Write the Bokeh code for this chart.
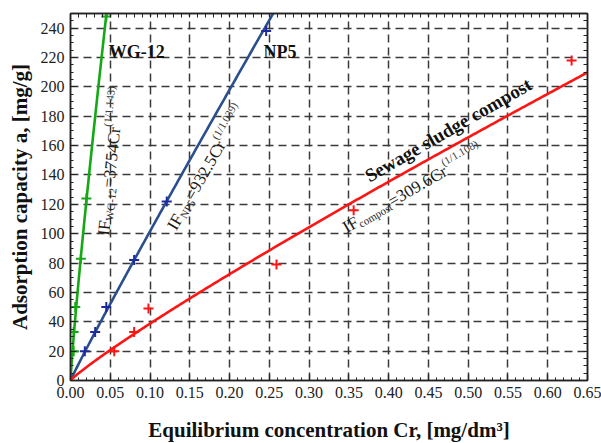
import math
import numpy as np
from bokeh.plotting import figure
from bokeh.models import LinearAxis, FixedTicker, Label, Range1d
from bokeh.embed import file_html
from bokeh.resources import INLINE

# ---------------- data ----------------
wg_x = [0.004, 0.004, 0.006, 0.013, 0.020, 0.045]
wg_y = [20, 33, 50, 83, 124, 248]
np5_x = [0.018, 0.031, 0.045, 0.080, 0.121, 0.246]
np5_y = [20, 33, 50, 82, 122, 238]
comp_x = [0.055, 0.080, 0.098, 0.259, 0.356, 0.630]
comp_y = [20, 33, 49, 79, 116, 218]

# Freundlich fits stated on the chart: a = K * Cr^(1/n)
fit_K = [3754.0, 932.5, 309.6]
fit_n = [1.143, 1.039, 1.108]

x_ticks = [0.00, 0.05, 0.10, 0.15, 0.20, 0.25, 0.30, 0.35, 0.40, 0.45, 0.50, 0.55, 0.60, 0.65]
x_tick_labels = ["0.00", "0.05", "0.10", "0.15", "0.20", "0.25", "0.30", "0.35", "0.40",
                 "0.45", "0.50", "0.55", "0.60", "0.65"]
y_ticks = [0, 20, 40, 60, 80, 100, 120, 140, 160, 180, 200, 220, 240]

X_MAX, Y_MAX = 0.65, 250
FW, FH = 517, 367
SERIF = "Liberation Serif"

GREEN = "#14a814"
BLUE_LINE = "#2b4f8c"
BLUE_PT = "#1c2a9e"
RED = "#ff1414"

p = figure(frame_width=FW, frame_height=FH,
           x_range=Range1d(0, X_MAX), y_range=Range1d(0, Y_MAX),
           output_backend="svg", toolbar_location=None,
           min_border_left=70, min_border_right=14, min_border_top=13, min_border_bottom=63)
p.background_fill_color = "white"
p.border_fill_color = "white"
p.outline_line_color = "#222222"
p.outline_line_width = 1.5

minor_x = [round(0.01 * i, 2) for i in range(66)]
minor_y = list(range(0, 251, 5))
xt = FixedTicker(ticks=x_ticks, minor_ticks=minor_x)
yt = FixedTicker(ticks=y_ticks, minor_ticks=minor_y)
# top/right axes: ticks only (everything as minor ticks so no labels are produced)
xt_top = FixedTicker(ticks=[], minor_ticks=sorted(set(minor_x) | set(x_ticks)))
yt_right = FixedTicker(ticks=[], minor_ticks=sorted(set(minor_y) | set(y_ticks)))

def style_axis(ax):
    ax.axis_line_color = "#222222"
    ax.axis_line_width = 1.5
    ax.major_tick_in = 6
    ax.major_tick_out = 0
    ax.minor_tick_in = 3
    ax.minor_tick_out = 0
    ax.major_tick_line_color = "#222222"
    ax.minor_tick_line_color = "#222222"
    ax.major_tick_line_width = 1.2
    ax.minor_tick_line_width = 1
    ax.major_label_text_font = SERIF
    ax.major_label_text_font_size = "16px"
    ax.major_label_text_color = "#222222"
    ax.major_label_standoff = 6
    ax.axis_label_text_font = SERIF
    ax.axis_label_text_font_style = "bold"
    ax.axis_label_text_font_size = "21px"
    ax.axis_label_text_color = "#111111"

xa = p.xaxis[0]
xa.ticker = xt
xa.major_label_overrides = {t: l for t, l in zip(x_ticks, x_tick_labels)}
xa.axis_label = "Equilibrium concentration Cr, [mg/dm\u00b3]"
style_axis(xa)
xa.axis_label_standoff = 17

ya = p.yaxis[0]
ya.ticker = yt
ya.axis_label = "Adsorption capacity a, [mg/g]"
style_axis(ya)
ya.axis_label_standoff = 6

top = LinearAxis(ticker=xt_top)
style_axis(top)
top.minor_tick_in = 4
p.add_layout(top, "above")
right = LinearAxis(ticker=yt_right)
style_axis(right)
right.minor_tick_in = 4
p.add_layout(right, "right")

for g in (p.xgrid[0], p.ygrid[0]):
    g.grid_line_color = "#3a3a3a"
    g.grid_line_width = 1.5
    g.grid_line_dash = "8 5"
p.xgrid[0].ticker = xt
p.ygrid[0].ticker = yt

# fitted curves
xs = np.linspace(0, X_MAX, 400)
for K, n, c in zip(fit_K, fit_n, [GREEN, BLUE_LINE, RED]):
    p.line(xs, K * xs ** (1.0 / n), line_color=c, line_width=2.6)

# measured points
p.scatter(wg_x, wg_y, marker="cross", size=10, line_width=2, line_color=GREEN)
p.scatter(np5_x, np5_y, marker="cross", size=10, line_width=2, line_color=BLUE_PT)
p.scatter(comp_x, comp_y, marker="cross", size=10, line_width=2, line_color=RED)

# series names
for txt, x, y in [("WG-12", 0.048, 223.5), ("NP5", 0.2426, 224)]:
    p.add_layout(Label(x=x, y=y, text=txt, text_font=SERIF, text_font_style="bold",
                       text_font_size="18px", text_color="#111111",
                       text_baseline="alphabetic", text_align="left"))
p.add_layout(Label(x=0.372, y=138.5, text="Sewage sludge compost", angle=math.radians(30),
                   text_font=SERIF, text_font_style="bold", text_font_size="19px",
                   text_color="#111111", text_baseline="alphabetic", text_align="left"))

# equations built from pieces (main, subscript, main, superscript)
W = {"I": 333, "F": 556, "W": 944, "G": 722, "-": 333, "=": 564, ".": 250, "C": 667,
     "r": 333, "(": 333, ")": 333, "/": 278, "N": 722, "P": 556, "c": 444, "o": 500,
     "m": 778, "p": 500, "s": 389, "t": 278}

def tw(s, size):
    return sum(W.get(ch, 500) for ch in s) / 1000.0 * size

PXX = FW / X_MAX
PXY = FH / Y_MAX

def add_eq(x0, y0, deg, parts):
    th = math.radians(deg)
    d = 0.0
    for txt, size, shift, col in parts:
        x = x0 + (d * math.cos(th) - shift * math.sin(th)) / PXX
        y = y0 + (d * math.sin(th) + shift * math.cos(th)) / PXY
        p.add_layout(Label(x=x, y=y, text=txt, angle=th, text_font=SERIF,
                           text_font_size=f"{size}px", text_color=col,
                           text_baseline="alphabetic", text_align="left"))
        d += tw(txt, size)

MAIN, SMALL = 17, 11
eqs = [
    (0.0415, 98.8, 84, "WG-12", "=3754Cr", "(1/1.143)"),
    (0.127, 103.5, 60, "NP5", "=932.5Cr", "(1/1.039)"),
    (0.344, 103.5, 30, "compost", "=309.6Cr", "(1/1.108)"),
]
for x0, y0, deg, sub, mid, sup in eqs:
    add_eq(x0, y0, deg, [("IF", MAIN, 0, "#1a1a1a"), (sub, SMALL, -4, "#2a2a2a"),
                         (mid, MAIN, 0, "#1a1a1a"), (sup, SMALL, 8, "#3a3a3a")])

open("out.html", "w").write(file_html(p, INLINE))
